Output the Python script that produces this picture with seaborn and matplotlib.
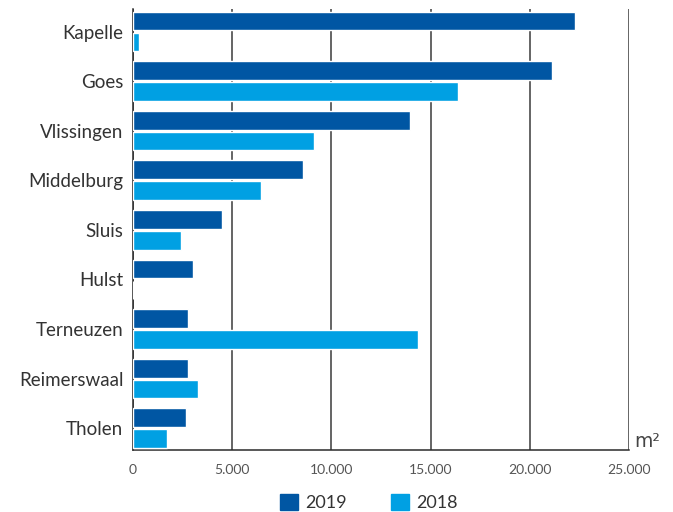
import matplotlib
matplotlib.use('Agg')
import matplotlib.pyplot as plt
import numpy as np
import pandas as pd
import seaborn as sns
from matplotlib.ticker import FuncFormatter

gemeenten = ['Kapelle', 'Goes', 'Vlissingen', 'Middelburg', 'Sluis',
             'Hulst', 'Terneuzen', 'Reimerswaal', 'Tholen']
m2_2019 = [22260, 21130, 13980, 8580, 4480, 3050, 2770, 2770, 2670]
m2_2018 = [280, 16370, 9140, 6450, 2420, 0, 14390, 3260, 1700]
jaren = ['2019', '2018']
kleuren = ['#0056a3', '#00a0e3']
x_ticks = [0, 5000, 10000, 15000, 20000, 25000]

df = pd.DataFrame({
    'gemeente': gemeenten * 2,
    'jaar': ['2019'] * len(gemeenten) + ['2018'] * len(gemeenten),
    'm2': m2_2019 + m2_2018,
})

sns.set_theme(style='white')
plt.rcParams['font.family'] = ['Lato', 'DejaVu Sans']

fig = plt.figure(figsize=(6.73, 5.12), dpi=100)
ax = fig.add_axes([0.1976, 0.121, 0.737, 0.862])

sns.barplot(data=df, y='gemeente', x='m2', hue='jaar', hue_order=jaren,
            palette=kleuren, orient='h', width=0.84, gap=0.1,
            saturation=1, ax=ax, legend=False, zorder=3)

ax.set_xlim(0, 25000)
ax.set_ylim(8.44, -0.46)
ax.set_xticks(x_ticks)
ax.xaxis.set_major_formatter(FuncFormatter(lambda v, p: f'{int(v):,}'.replace(',', '.')))
ax.grid(axis='x', color='#3a3a3a', linewidth=1.1, zorder=0)
ax.grid(axis='y', visible=False)
ax.set_xlabel('')
ax.set_ylabel('')

ax.spines['top'].set_visible(False)
ax.spines['right'].set_visible(False)
ax.spines['left'].set_color('#2a2a2a')
ax.spines['left'].set_linewidth(1.1)
ax.spines['bottom'].set_color('#2a2a2a')
ax.spines['bottom'].set_linewidth(1.1)

ax.tick_params(axis='y', length=0, pad=7, labelsize=13.5, labelcolor='#333333')
ax.tick_params(axis='x', length=0, pad=10, labelsize=10, labelcolor='#555555')

ax.text(1.01, -0.003, 'm²', transform=ax.transAxes, ha='left', va='bottom',
        fontsize=13.5, color='#444444', family=['DejaVu Sans'])

handles = [plt.Rectangle((0, 0), 1, 1, color=c) for c in kleuren]
fig.legend(handles, jaren, loc='lower center', bbox_to_anchor=(0.548, -0.03),
           ncol=2, frameon=False, handlelength=1.0, handleheight=1.0,
           columnspacing=2.4, handletextpad=0.4, fontsize=13,
           labelcolor='#333333')

fig.savefig('out.png', dpi=100)
